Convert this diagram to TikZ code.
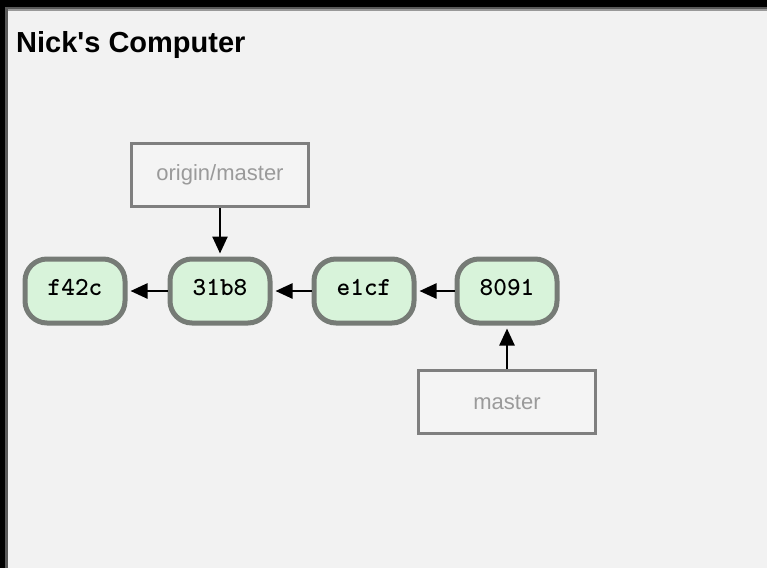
\documentclass[tikz,border=0pt]{standalone}
\usepackage{fontspec}
\newfontfamily\labelfont{Liberation Sans}
\usetikzlibrary{arrows.meta}
\definecolor{bgcol}{HTML}{F2F2F2}
\definecolor{commitfill}{HTML}{D8F3DA}
\definecolor{commitline}{HTML}{767B76}
\definecolor{branchline}{HTML}{7F7F7F}
\definecolor{branchfill}{HTML}{F4F4F4}
\definecolor{branchtext}{HTML}{9A9A9A}
\begin{document}
\begin{tikzpicture}[x=1pt,y=-1pt,
    commit/.style={draw=commitline,line width=5pt,fill=commitfill,rounded corners=22pt,
      minimum width=100pt,minimum height=64pt,text height=0.95em,text depth=0pt,
      font=\ttfamily\bfseries\fontsize{26}{26}\selectfont},
    branch/.style={draw=branchline,line width=3pt,fill=branchfill,text=branchtext,
      minimum width=177pt,minimum height=63pt,font=\labelfont\fontsize{22}{22}\selectfont},
    ptr/.style={-{Triangle[length=17pt,width=15pt]},line width=2.5pt,shorten >=3pt}]
  % window
  \fill[bgcol] (0,0) rectangle (767,568);
  \fill[black] (0,0) rectangle (767,7);
  \fill[black!65] (0,7) rectangle (767,9);
  \fill[black!40] (0,9) rectangle (767,11);
  \fill[black] (0,0) rectangle (5,568);
  \fill[black!65] (5,7) rectangle (8,568);
  \node[anchor=base west,inner sep=0pt,font=\labelfont\bfseries\fontsize{29}{29}\selectfont]
    (title) at (16,52) {Nick's Computer};

  % commits
  \node[commit] (cf42c) at (75,291) {f42c};
  \node[commit] (c31b8) at (220,291) {31b8};
  \node[commit] (ce1cf) at (364,291) {e1cf};
  \node[commit] (c8091) at (507,291) {8091};

  % branches
  \node[branch] (origin) at (220,175) {origin/master};
  \node[branch] (master) at (507,402) {master};

  \draw[ptr] (c31b8) -- (cf42c);
  \draw[ptr] (ce1cf) -- (c31b8);
  \draw[ptr] (c8091) -- (ce1cf);
  \draw[ptr] (origin) -- (c31b8);
  \draw[ptr] (master) -- (c8091);
\end{tikzpicture}
\end{document}
